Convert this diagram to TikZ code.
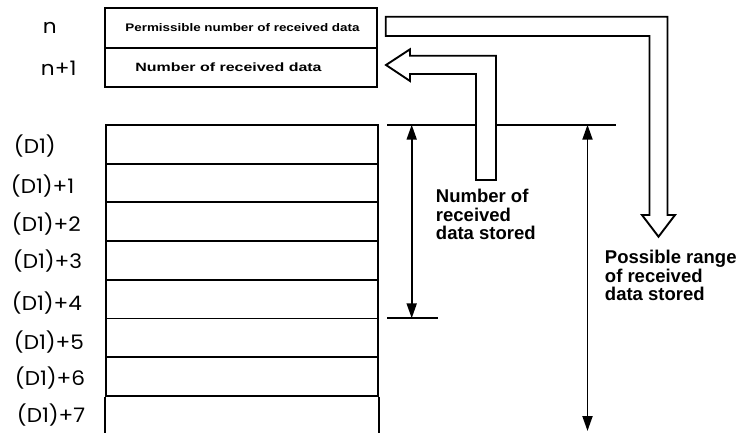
\documentclass[tikz,border=0pt]{standalone}
\usepackage{fontspec}
\setmainfont{Liberation Sans}
\newfontfamily\labfont{Poppins}
\usetikzlibrary{arrows.meta}
\newcommand{\lbltext}[1]{\scalebox{1.08}[1]{\labfont\fontsize{20}{20}\selectfont #1}}
\begin{document}
\begin{tikzpicture}[x=1pt,y=1pt,
  line width=1.9pt,
  cell/.style={draw, rectangle, minimum width=272pt, minimum height=38.7pt, anchor=north west, inner sep=0pt},
  lab/.style={anchor=west, inner sep=0pt},
  note/.style={font=\bfseries\fontsize{18.5}{18.5}\selectfont, align=left, anchor=north west, inner sep=0pt},
  boxtext/.style={inner sep=0pt},
  dim/.style={line width=1.9pt, {Triangle[length=15pt,width=10pt]}-{Triangle[length=15pt,width=10pt]}},
  blockarrow/.style={draw, fill=white, line width=1.9pt, line join=miter}]
\useasboundingbox (0,0) rectangle (741,-432);

% top boxes
\node[cell, minimum height=40pt] (p) at (104,-7) {};
\node[cell, minimum height=39pt] (q) at (104,-47) {};
\node[boxtext] (pt) at (242.5,-27.5) {\scalebox{1.22}[1]{\bfseries\fontsize{11}{11}\selectfont Permissible number of received data}};
\node[boxtext] (qt) at (228.5,-67) {\scalebox{1.33}[1]{\bfseries\fontsize{12}{12}\selectfont Number of received data}};
\node[lab] (ln) at (42,-28) {\lbltext{n}};
\node[lab] (ln1) at (40,-68) {\lbltext{n+1}};

% stack
\foreach \i in {0,...,6}
  \node[cell] (r\i) at (105,{-124-38.7*\i}) {};
\coordinate (bot) at (0,-434);
\draw (r6.south west) -- (r6.south west |- bot);
\draw (r6.south east) -- (r6.south east |- bot);

\node[lab] (l0) at (13,-146.5) {\lbltext{(D1)}};
\node[lab] (l1) at (10,-186) {\lbltext{(D1)+1}};
\node[lab] (l2) at (11,-224) {\lbltext{(D1)+2}};
\node[lab] (l3) at (12,-261) {\lbltext{(D1)+3}};
\node[lab] (l4) at (11,-303) {\lbltext{(D1)+4}};
\node[lab] (l5) at (13,-342) {\lbltext{(D1)+5}};
\node[lab] (l6) at (14,-378) {\lbltext{(D1)+6}};
\node[lab] (l7) at (16,-415) {\lbltext{(D1)+7}};

% dimension lines
\coordinate (h1a) at (387,-124.7);
\coordinate (h1b) at (616,-124.7);
\coordinate (h2a) at (387,-318.3);
\coordinate (h2b) at (438,-318.3);
\draw (h1a) -- (h1b);
\draw (h2a) -- (h2b);
\coordinate (d1t) at (411.7,-124.7);
\coordinate (d1b) at (411.7,-318.3);
\coordinate (d2t) at (587.5,-124.7);
\coordinate (d2b) at (587.5,-431);
\draw[dim] (d1t) -- (d1b);
\draw[dim] (d2t) -- (d2b);

% block arrows
\draw[blockarrow] (385.7,-16.7) -- (667.5,-16.7) -- (667.5,-215) -- (675,-215) -- (658.5,-236.7)
   -- (642,-215) -- (649.5,-215) -- (649.5,-36) -- (385.7,-36) -- cycle;
\draw[blockarrow] (496,-180) -- (496,-55.7) -- (410,-55.7) -- (410,-49.3) -- (386,-65)
   -- (410,-81) -- (410,-74) -- (476,-74) -- (476,-180) -- cycle;

% notes
\node[note] (n1) at (435,-188.5) {Number of\\received\\data stored};
\node[note] (n2) at (604,-249.5) {Possible range\\of received\\data stored};
\end{tikzpicture}
\end{document}
